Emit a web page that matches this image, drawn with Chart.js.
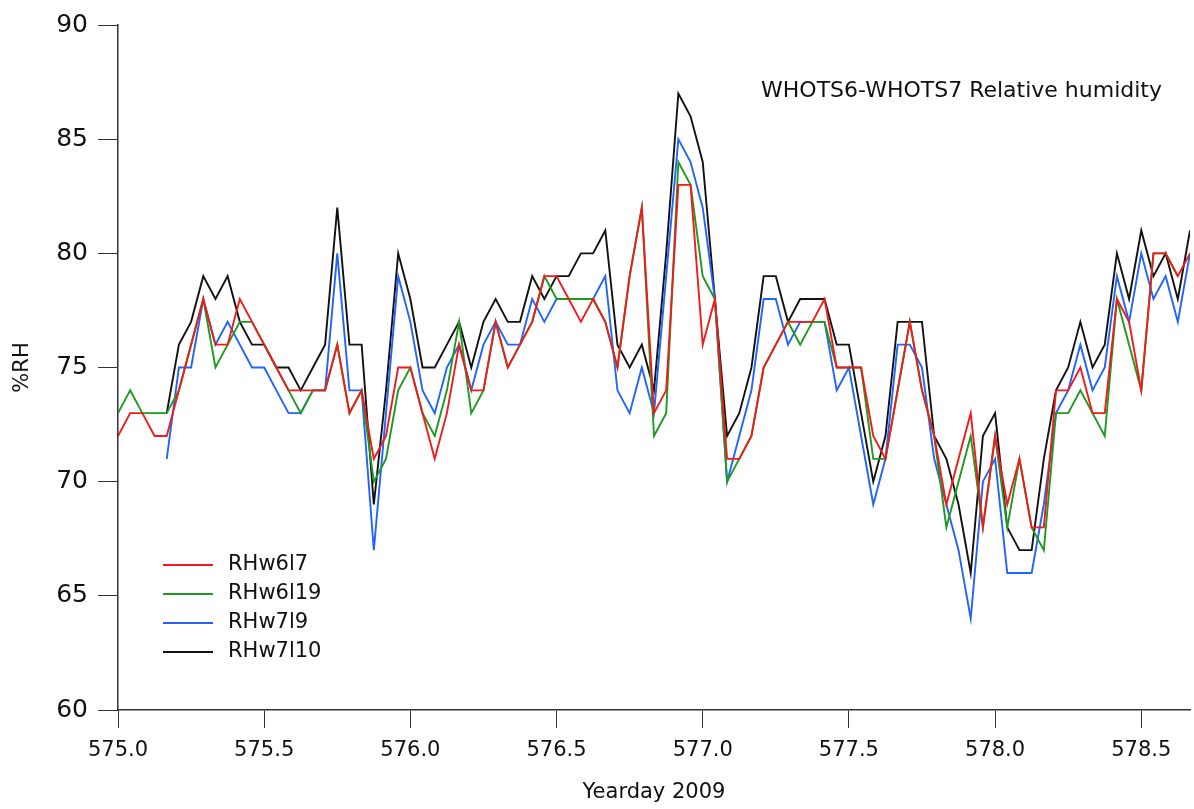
<!DOCTYPE html>
<html>
<head>
<meta charset="utf-8">
<script src="https://cdn.jsdelivr.net/npm/chart.js@4.4.1/dist/chart.umd.min.js"></script>
<style>
  html, body { margin: 0; padding: 0; background: #fff; }
  #wrap { width: 1194px; height: 809px; }
</style>
</head>
<body>
<div id="wrap"><canvas id="rhChart" width="1194" height="809"></canvas></div>
<script>
// --- WHOTS6 / WHOTS7 relative humidity, hourly samples ---
const startDay = 575.0;      // yearday of first sample
const stepDay = 1 / 24;      // hourly

const xTicks = [575.0, 575.5, 576.0, 576.5, 577.0, 577.5, 578.0, 578.5];
const yTicks = [60, 65, 70, 75, 80, 85, 90];

const rhW6L7 = [72, 73, 73, 72, 72, 74, 76, 78, 76, 76, 78, 77, 76, 75, 74, 74, 74, 74, 76, 73,
  74, 71, 72, 75, 75, 73, 71, 73, 76, 74, 74, 77, 75, 76, 77, 79, 79, 78, 77, 78,
  77, 75, 79, 82, 73, 74, 83, 83, 76, 78, 71, 71, 72, 75, 76, 77, 77, 77, 78, 75,
  75, 75, 72, 71, 74, 77, 74, 72, 69, 71, 73, 68, 72, 69, 71, 68, 68, 74, 74, 75,
  73, 73, 78, 77, 74, 80, 80, 79, 80];

const rhW6L19 = [73, 74, 73, 73, 73, 74, 76, 78, 75, 76, 77, 77, 76, 75, 74, 73, 74, 74, 76, 73,
  74, 70, 71, 74, 75, 73, 72, 74, 77, 73, 74, 77, 75, 76, 77, 79, 78, 78, 78, 78,
  77, 75, 79, 82, 72, 73, 84, 83, 79, 78, 70, 71, 72, 75, 76, 77, 76, 77, 77, 75,
  75, 75, 71, 71, 74, 77, 74, 72, 68, 70, 72, 68, 72, 68, 71, 68, 67, 73, 73, 74,
  73, 72, 78, 76, 74, 80, 80, 79, null];

const rhW7L9 = [null, null, null, null, 71, 75, 75, 78, 76, 77, 76, 75, 75, 74, 73, 73, 74, 74, 80, 74,
  74, 67, 73, 79, 77, 74, 73, 75, 76, 74, 76, 77, 76, 76, 78, 77, 78, 78, 78, 78,
  79, 74, 73, 75, 73, 79, 85, 84, 82, 78, 70, 72, 74, 78, 78, 76, 77, 77, 77, 74,
  75, 72, 69, 71, 76, 76, 75, 71, 69, 67, 64, 70, 71, 66, 66, 66, 69, 73, 74, 76,
  74, 75, 79, 77, 80, 78, 79, 77, 80];

const rhW7L10 = [null, null, null, null, 73, 76, 77, 79, 78, 79, 77, 76, 76, 75, 75, 74, 75, 76, 82, 76,
  76, 69, 74, 80, 78, 75, 75, 76, 77, 75, 77, 78, 77, 77, 79, 78, 79, 79, 80, 80,
  81, 76, 75, 76, 74, 80, 87, 86, 84, 78, 72, 73, 75, 79, 79, 77, 78, 78, 78, 76,
  76, 73, 70, 72, 77, 77, 77, 72, 71, 69, 66, 72, 73, 68, 67, 67, 71, 74, 75, 77,
  75, 76, 80, 78, 81, 79, 80, 78, 81];

const seriesNames = ['RHw6l7', 'RHw6l19', 'RHw7l9', 'RHw7l10'];
const seriesColors = ['#f21a1a', '#1e9a1e', '#2163ff', '#111111'];
const seriesValues = [rhW6L7, rhW6L19, rhW7L9, rhW7L10];

const plotTitle = 'WHOTS6-WHOTS7 Relative humidity';
const FONT = '"DejaVu Sans", Verdana, sans-serif';

function toPoints(vals) {
    return vals.map((v, i) => ({ x: startDay + i * stepDay, y: v }));
}

// legend + title drawn inside the plot area
const insidePlugin = {
    id: 'insideLegend',
    afterDatasetsDraw(chart) {
        const { ctx, chartArea } = chart;
        ctx.save();
        ctx.font = '22px ' + FONT;
        ctx.fillStyle = '#111';
        ctx.textBaseline = 'middle';
        ctx.textAlign = 'right';
        ctx.fillText(plotTitle, chartArea.right - 28, 91);

        ctx.font = '21px ' + FONT;
        ctx.textAlign = 'left';
        const x0 = chartArea.left + 45;
        let y = chartArea.bottom - 145;
        chart.data.datasets.forEach(ds => {
            ctx.strokeStyle = ds.borderColor;
            ctx.lineWidth = 2;
            ctx.beginPath();
            ctx.moveTo(x0, y);
            ctx.lineTo(x0 + 50, y);
            ctx.stroke();
            ctx.fillStyle = '#111';
            ctx.fillText(ds.label, x0 + 65, y);
            y += 29;
        });
        ctx.restore();
    }
};

const ctx = document.getElementById('rhChart').getContext('2d');
new Chart(ctx, {
    type: 'line',
    data: {
        datasets: seriesNames.map((name, k) => ({
            label: name,
            data: toPoints(seriesValues[k]),
            borderColor: seriesColors[k],
            backgroundColor: seriesColors[k],
            borderWidth: 1.9,
            pointRadius: 0,
            tension: 0,
            spanGaps: false
        }))
    },
    options: {
        responsive: false,
        animation: false,
        layout: { padding: { top: 21, right: 4, left: 0, bottom: 0 } },
        plugins: {
            legend: { display: false },
            tooltip: { enabled: false }
        },
        scales: {
            x: {
                type: 'linear',
                min: startDay,
                max: startDay + (rhW6L7.length - 1) * stepDay,
                afterBuildTicks: (s) => { s.ticks = xTicks.map(v => ({ value: v })); },
                afterFit: (s) => { s.height = 99; },
                grid: { drawOnChartArea: false, drawTicks: true, tickLength: 18, color: '#333' },
                border: { display: true, color: '#333', width: 1.5 },
                ticks: {
                    font: { family: FONT, size: 21 },
                    color: '#111',
                    padding: 10,
                    maxRotation: 0,
                    callback: (v) => Number(v).toFixed(1)
                },
                title: {
                    display: true,
                    text: 'Yearday 2009',
                    font: { family: FONT, size: 21 },
                    color: '#111',
                    padding: { top: 2 }
                }
            },
            y: {
                min: 60,
                max: 90,
                afterBuildTicks: (s) => { s.ticks = yTicks.map(v => ({ value: v })); },
                afterFit: (s) => { s.width = 118; },
                grid: { drawOnChartArea: false, drawTicks: true, tickLength: 20, color: '#333' },
                border: { display: true, color: '#333', width: 1.5 },
                ticks: {
                    font: { family: FONT, size: 25 },
                    color: '#111',
                    padding: 10
                },
                title: {
                    display: true,
                    text: '%RH',
                    font: { family: FONT, size: 21 },
                    color: '#111',
                    padding: { top: 10, bottom: 0 }
                }
            }
        }
    },
    plugins: [insidePlugin]
});
</script>
</body>
</html>
